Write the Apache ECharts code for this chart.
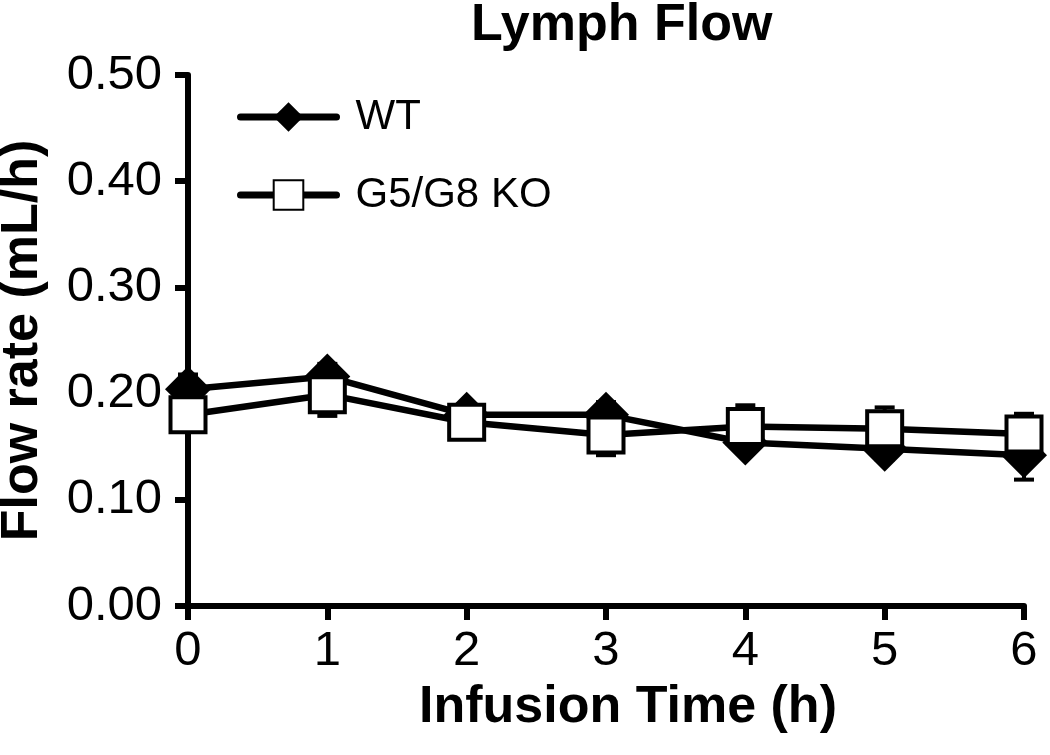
<!DOCTYPE html>
<html>
<head>
<meta charset="utf-8">
<script src="https://cdn.jsdelivr.net/npm/echarts@6/dist/echarts.min.js"></script>
<style>
html,body{margin:0;padding:0;background:#fff;}
#chart{width:1050px;height:755px;}
</style>
</head>
<body>
<div id="chart"></div>
<script>
const hours = [0, 1, 2, 3, 4, 5, 6];
const wtFlow = [0.204, 0.216, 0.180, 0.180, 0.154, 0.148, 0.142];
const koFlow = [0.180, 0.199, 0.173, 0.161, 0.169, 0.167, 0.162];
const wtErr = [0.014, 0.012, 0.010, 0.012, 0.010, 0.010, 0.023];
const koErr = [0.012, 0.020, 0.012, 0.019, 0.020, 0.020, 0.019];
const seriesNames = ['WT', 'G5/G8 KO'];

const FONT = 'Liberation Sans, Arial, Helvetica, sans-serif';

function pairs(xs, ys) { return xs.map((x, i) => [x, ys[i]]); }
function triples(xs, ys, es) { return xs.map((x, i) => [x, ys[i], es[i]]); }

function errRender(params, api) {
  const x = api.value(0), y = api.value(1), e = api.value(2);
  const t = api.coord([x, y + e]);
  const b = api.coord([x, y - e]);
  const hw = 10;
  const st = { stroke: '#000', lineWidth: 4 };
  return {
    type: 'group',
    children: [
      { type: 'line', shape: { x1: t[0], y1: t[1], x2: b[0], y2: b[1] }, style: st },
      { type: 'line', shape: { x1: t[0] - hw, y1: t[1], x2: t[0] + hw, y2: t[1] }, style: st },
      { type: 'line', shape: { x1: b[0] - hw, y1: b[1], x2: b[0] + hw, y2: b[1] }, style: st }
    ]
  };
}

const chart = echarts.init(document.getElementById('chart'), null, { renderer: 'canvas' });
chart.setOption({
  backgroundColor: '#fff',
  animation: false,
  title: {
    text: 'Lymph Flow',
    left: 471,
    top: 0,
    padding: 0,
    textStyle: { fontFamily: FONT, fontWeight: 'bold', fontSize: 52, color: '#000' }
  },
  legend: {
    data: seriesNames,
    orient: 'vertical',
    left: 237,
    top: 96,
    padding: 0,
    itemWidth: 96,
    itemHeight: 37,
    itemGap: 36,
    textStyle: { fontFamily: FONT, fontSize: 42, color: '#000', padding: [0, 0, 0, 14] },
    lineStyle: { color: '#000', width: 7, cap: 'round' }
  },
  grid: { left: 188, right: 26, top: 75, bottom: 149, containLabel: false, outerBoundsMode: 'none' },
  xAxis: {
    type: 'value',
    min: 0, max: 6, interval: 1,
    name: 'Infusion Time (h)',
    nameLocation: 'middle',
    nameGap: 76,
    nameTextStyle: { fontFamily: FONT, fontWeight: 'bold', fontSize: 52, color: '#000', padding: [0, 0, 0, 44] },
    axisLine: { lineStyle: { color: '#000', width: 6 } },
    axisTick: { length: 14, lineStyle: { color: '#000', width: 6 } },
    axisLabel: { fontFamily: FONT, fontSize: 49, color: '#000', margin: 21 },
    splitLine: { show: false }
  },
  yAxis: {
    type: 'value',
    min: 0, max: 0.5, interval: 0.1,
    name: 'Flow rate (mL/h)',
    nameLocation: 'middle',
    nameRotate: 90,
    nameGap: 139,
    nameTextStyle: { fontFamily: FONT, fontWeight: 'bold', fontSize: 52, color: '#000' },
    axisLine: { show: true, lineStyle: { color: '#000', width: 6 } },
    axisTick: { show: true, length: 13, lineStyle: { color: '#000', width: 6 } },
    axisLabel: { fontFamily: FONT, fontSize: 49, color: '#000', margin: 26, formatter: v => v.toFixed(2) },
    splitLine: { show: false }
  },
  series: [
    {
      name: 'WT err', type: 'custom', renderItem: errRender, z: 1,
      data: triples(hours, wtFlow, wtErr), clip: false, silent: true
    },
    {
      name: 'KO err', type: 'custom', renderItem: errRender, z: 1,
      data: triples(hours, koFlow, koErr), clip: false, silent: true
    },
    {
      name: seriesNames[0], type: 'line', z: 2, clip: false,
      data: pairs(hours, wtFlow),
      symbol: 'diamond', symbolSize: [46, 46],
      lineStyle: { color: '#000', width: 6.5, join: 'round' },
      itemStyle: { color: '#000', borderColor: '#000', borderWidth: 0 }
    },
    {
      name: seriesNames[1], type: 'line', z: 3, clip: false,
      data: pairs(hours, koFlow),
      symbol: 'rect', symbolSize: [35, 35],
      lineStyle: { color: '#000', width: 6.5, join: 'round' },
      itemStyle: { color: '#fff', borderColor: '#000', borderWidth: 4 }
    }
  ]
});
</script>
</body>
</html>
